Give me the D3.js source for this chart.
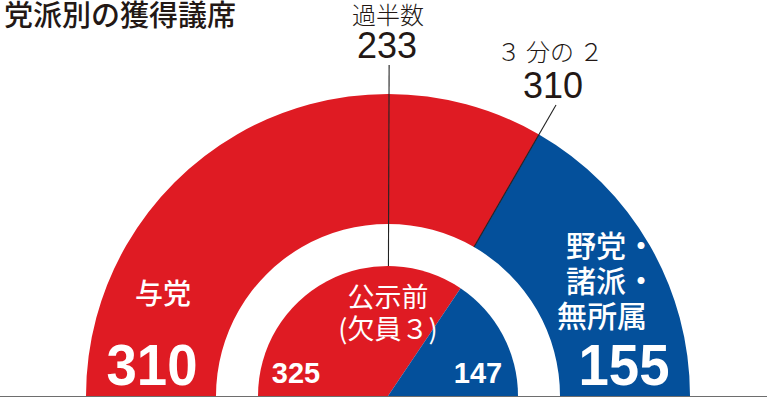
<!DOCTYPE html>
<html><head><meta charset="utf-8">
<script src="https://cdn.jsdelivr.net/npm/d3@7"></script>
<style>html,body{margin:0;padding:0;background:#fff;}svg{display:block;}</style>
</head><body>
<script>
// ---- data ----
const title = "党派別の獲得議席";
const outerLabels = ["与党", "野党・諸派・無所属"];
const outerSeats = [310, 155];
const innerLabel = ["公示前", "(欠員３)"];
const innerSeats = [325, 147];
const markerNames = ["過半数", "３ 分の ２"];
const markerSeats = [233, 310];
const colors = ["#df1b23", "#04509b"];

const W = 767, H = 397;
const cx = 388, cy = 396;
const R1 = 302, R0 = 172, Rin = 130;
const jp = "'Noto Sans CJK JP', sans-serif";
const num = "'Liberation Sans', Arial, sans-serif";

const svg = d3.select("body").append("svg").attr("width", W).attr("height", H);

const outerTotal = d3.sum(outerSeats), innerTotal = d3.sum(innerSeats);
const aOuter = d3.scaleLinear().domain([0, outerTotal]).range([-Math.PI/2, Math.PI/2]);
const aInner = d3.scaleLinear().domain([0, innerTotal]).range([-Math.PI/2, Math.PI/2]);
const pie = (vals, sc) => { let c = 0; return vals.map((v,i) => { const s = c; c += v; return {i, v, startAngle: sc(s), endAngle: sc(c)}; }); };

const g = svg.append("g").attr("transform", `translate(${cx},${cy})`);
const arcOuter = d3.arc().innerRadius(R0).outerRadius(R1);
const arcInner = d3.arc().innerRadius(0).outerRadius(Rin);

g.selectAll("path.o").data(pie(outerSeats, aOuter)).join("path")
  .attr("class","o").attr("d", arcOuter).attr("fill", d => colors[d.i]);
g.selectAll("path.i").data(pie(innerSeats, aInner)).join("path")
  .attr("class","i").attr("d", arcInner).attr("fill", d => colors[d.i]);

// marker lines
const pt = (a, r) => [r*Math.sin(a), -r*Math.cos(a)];
const markerR = [[Rin, 331], [R0, 336]];
markerSeats.forEach((v, k) => {
  const a = aOuter(v);
  const p0 = pt(a, markerR[k][0]), p1 = pt(a, markerR[k][1]);
  g.append("line").attr("x1", p0[0]).attr("y1", p0[1]).attr("x2", p1[0]).attr("y2", p1[1])
    .attr("stroke", "#222").attr("stroke-width", 1.1);
});

// baseline
svg.append("line").attr("x1",0).attr("x2",W).attr("y1",396.5).attr("y2",396.5).attr("stroke","#6e6e6e").attr("stroke-width",1);

// title
svg.append("text").attr("x", 4).attr("y", 26).text(title)
  .attr("font-family", jp).attr("font-size", 29).attr("font-weight", 500).attr("fill", "#231815");

// marker labels
const mPos = [[388, 24, 387, 58], [550, 61, 553, 98]];
markerNames.forEach((n, k) => {
  svg.append("text").attr("x", mPos[k][0]).attr("y", mPos[k][1]).attr("text-anchor","middle")
    .attr("font-family", jp).attr("font-size", 24).attr("font-weight", 300).attr("fill","#231815").text(n);
  svg.append("text").attr("x", mPos[k][2]).attr("y", mPos[k][3]).attr("text-anchor","middle")
    .attr("font-family", num).attr("font-size", 36).attr("fill","#231815").text(markerSeats[k]);
});

// outer labels
svg.append("text").attr("x", 163).attr("y", 304).attr("text-anchor","middle")
  .attr("font-family", jp).attr("font-size", 28).attr("font-weight", 500).attr("fill","#fff").text(outerLabels[0]);
const oppLines = ["野党・", "諸派・", "無所属"];
const oppX = [566, 566, 557], oppY = [257, 292, 327];
const oppT = svg.append("text").attr("font-family", jp).attr("font-size", 30).attr("font-weight", 500).attr("fill","#fff");
oppLines.forEach((t, k) => {
  oppT.append("tspan").attr("x", oppX[k]).attr("y", oppY[k]).text(t);
});
const bigX = [152, 624];
outerSeats.forEach((v, k) => {
  svg.append("text").attr("x", bigX[k]).attr("y", 385).attr("text-anchor","middle")
    .attr("font-family", num).attr("font-size", 58).attr("font-weight", "bold").attr("fill","#fff")
    .attr("textLength", 91).attr("lengthAdjust","spacingAndGlyphs").text(v);
});

// inner labels
const inY = [307, 339];
const inT = svg.append("text").attr("text-anchor","middle")
  .attr("font-family", jp).attr("font-size", 27).attr("font-weight", 400).attr("fill","#fff");
innerLabel.forEach((t, k) => {
  inT.append("tspan").attr("x", 388).attr("y", inY[k]).text(t);
});
const smallX = [296, 478];
innerSeats.forEach((v, k) => {
  svg.append("text").attr("x", smallX[k]).attr("y", 383).attr("text-anchor","middle")
    .attr("font-family", num).attr("font-size", 29).attr("font-weight", "bold").attr("fill","#fff").text(v);
});
</script>
</body></html>
